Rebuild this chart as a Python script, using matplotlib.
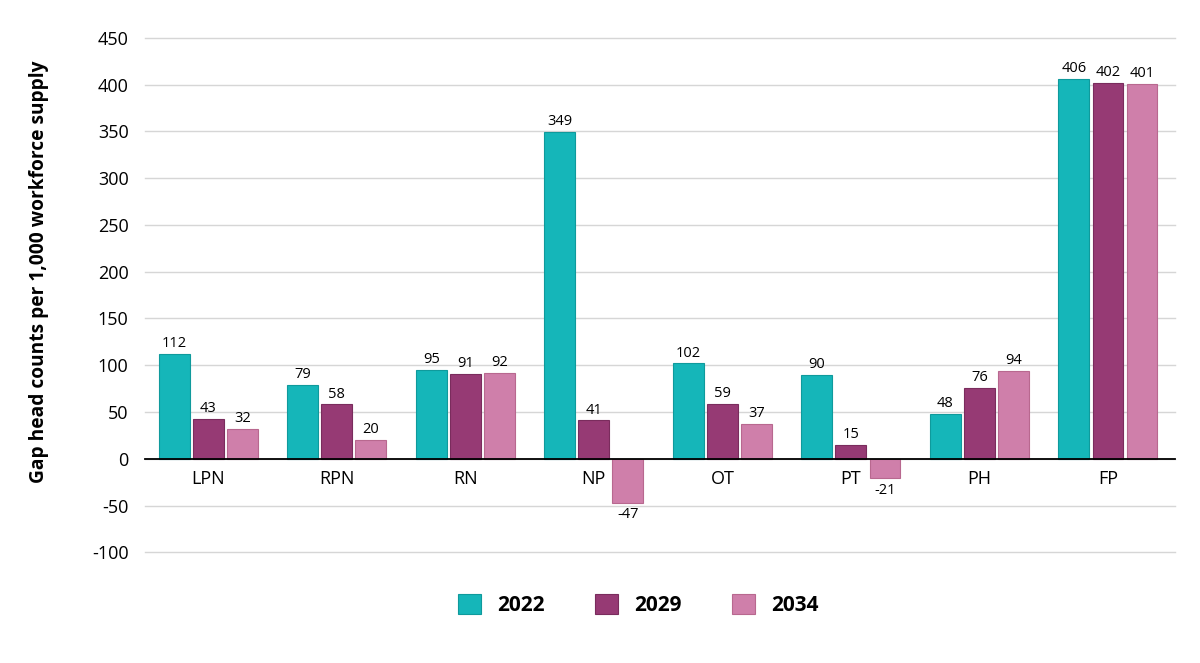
import numpy as np
import matplotlib.pyplot as plt

plt.rcParams['font.family'] = ['Open Sans', 'DejaVu Sans']

categories = ["LPN", "RPN", "RN", "NP", "OT", "PT", "PH", "FP"]
years = ["2022", "2029", "2034"]
gap_2022 = [112, 79, 95, 349, 102, 90, 48, 406]
gap_2029 = [43, 58, 91, 41, 59, 15, 76, 402]
gap_2034 = [32, 20, 92, -47, 37, -21, 94, 401]
yticks = [-100, -50, 0, 50, 100, 150, 200, 250, 300, 350, 400, 450]

colors = ["#15b6b9", "#963a74", "#cf7faa"]
edges = ["#0f9a9c", "#7a2c5d", "#b8688f"]

fig = plt.figure(figsize=(12, 6.63), dpi=100)
ax = fig.add_axes([0.121, 0.167, 0.858, 0.776])

# zero line acts as the category axis
ax.spines["bottom"].set_position(("data", 0))

x = np.arange(len(categories))
width = 0.24
step = 0.265
series = [gap_2022, gap_2029, gap_2034]

for i, (vals, year) in enumerate(zip(series, years)):
    pos = x + (i - 1) * step
    bars = ax.bar(pos, vals, width, color=colors[i], edgecolor=edges[i],
                  linewidth=0.8, label=year, zorder=3)
    for b, v in zip(bars, vals):
        cx = b.get_x() + b.get_width() / 2
        if v >= 0:
            ax.annotate(str(v), (cx, v), xytext=(0, 2), textcoords="offset points",
                        ha="center", va="bottom", fontsize=10.5)
        else:
            ax.annotate(str(v), (cx, v), xytext=(0, -3), textcoords="offset points",
                        ha="center", va="top", fontsize=10.5)

ax.set_xlim(-0.49, 7.52)
ax.set_ylim(-100, 450)
ax.set_yticks(yticks)
ax.set_yticklabels([str(t) for t in yticks])
ax.grid(axis="y", color="#d6d6d6", linewidth=1, zorder=0)
for gl in ax.get_ygridlines():
    gl.set_clip_on(False)

ax.set_xticks(x)
ax.set_xticklabels(categories)
ax.tick_params(axis="both", length=0)
ax.tick_params(axis="x", pad=8, labelsize=13)
ax.tick_params(axis="y", pad=12, labelsize=13)

for s in ["top", "right", "left"]:
    ax.spines[s].set_visible(False)
ax.spines["bottom"].set_color("black")
ax.spines["bottom"].set_linewidth(1.3)
ax.spines["bottom"].set_zorder(4)

ax.set_ylabel("Gap head counts per 1,000 workforce supply", fontsize=13.8,
              fontweight="bold")
ax.yaxis.set_label_coords(-0.093, 0.545)

fig.legend(loc="center", bbox_to_anchor=(0.532, 0.088), ncol=3, frameon=False,
           prop={"size": 15, "weight": "bold"}, handlelength=1.1, handleheight=1.1,
           columnspacing=2.4, handletextpad=0.8)

plt.savefig("out.png", dpi=100)
plt.close()
